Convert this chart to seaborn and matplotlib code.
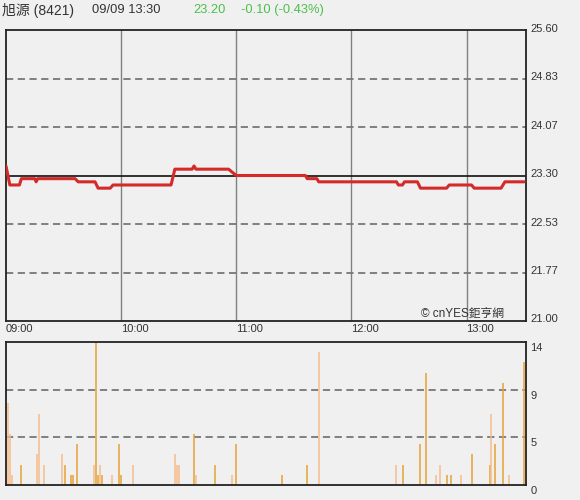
import matplotlib
matplotlib.use("Agg")
import matplotlib.pyplot as plt
import matplotlib.transforms as mtransforms
import seaborn as sns
import pandas as pd

# ---------------- data ----------------
stock_name = "旭源 (8421)"
stamp = "09/09 13:30"
last_price = "23.20"
change_text = "-0.10 (-0.43%)"
prev_close = 23.30

# minutes after 09:00 where the price sits / changes
price_minutes = [0, 1, 2, 7, 8, 15, 15.7, 16.5, 36, 37.6, 46.4, 48, 54.3, 55.8,
                 86, 88, 97, 98, 99, 116, 120, 156, 157, 162, 163, 203.5, 204.5,
                 206.6, 207.7, 214.4, 216, 229.6, 231, 242.6, 244, 258, 260, 270]
prices = [23.45, 23.30, 23.15, 23.15, 23.25, 23.25, 23.20, 23.25, 23.25, 23.20,
          23.20, 23.10, 23.10, 23.15, 23.15, 23.40, 23.40, 23.45, 23.40, 23.40,
          23.30, 23.30, 23.25, 23.25, 23.20, 23.20, 23.15, 23.15, 23.20, 23.20,
          23.10, 23.10, 23.15, 23.15, 23.10, 23.10, 23.20, 23.20]

vol_minutes = [0, 1, 2, 3, 8, 16, 17.4, 20, 29, 31, 34, 35, 37, 46, 47, 48, 49, 50,
               55, 59, 60, 66, 88, 89, 90, 98, 99, 109, 118, 120, 144, 157, 163,
               203, 207, 216, 219, 224, 226, 230, 232, 237, 243, 252, 253, 255,
               259, 262, 270]
volumes = [5, 8, 5, 1, 2, 3, 7, 2, 3, 2, 1, 1, 4, 2, 14, 1, 2, 1,
           1, 4, 1, 2, 3, 2, 2, 5, 1, 2, 1, 4, 1, 2, 13,
           2, 2, 4, 11, 1, 2, 1, 1, 1, 3, 2, 7, 4,
           10, 1, 12]
vol_side = ["l", "l", "l", "l", "d", "l", "l", "l", "l", "d", "d", "d", "d", "l", "d", "d", "l", "d",
            "l", "d", "d", "l", "l", "l", "l", "d", "l", "d", "l", "d", "d", "d", "l",
            "l", "d", "d", "d", "l", "l", "d", "d", "l", "d", "d", "l", "d",
            "d", "l", "d"]

time_ticks = [0, 60, 120, 180, 240]
time_labels = ["09:00", "10:00", "11:00", "12:00", "13:00"]
price_lo, price_hi = 21.00, 25.60
vol_max = 14
vol_tick_labels = ["0", "5", "9", "14"]

# ---------------- style ----------------
sns.set_theme(style="white")
plt.rcParams["font.family"] = ["Liberation Sans", "Noto Sans CJK TC", "DejaVu Sans"]
bg = "#f0f0f0"
grid_grey = "#808080"

fig = plt.figure(figsize=(5.8, 5.0), dpi=100, facecolor=bg)
ax = fig.add_axes([6 / 580, 1 - 321 / 500, 520 / 580, 291 / 500])
axv = fig.add_axes([6 / 580, 1 - 485 / 500, 520 / 580, 143 / 500])

xmax = 271

# ---------------- price panel ----------------
ax.set_facecolor(bg)
df = pd.DataFrame({"minute": price_minutes, "price": prices})
for t in time_ticks[1:]:
    ax.axvline(t, color=grid_grey, lw=1.0, zorder=1)
step = (price_hi - price_lo) / 6
yticks = [price_lo + i * step for i in range(7)]
for i, yv in enumerate(yticks):
    if i in (1, 2, 4, 5):
        ax.axhline(yv, color="#777777", lw=1.3, ls=(0, (4, 2.5)), zorder=1)
ax.axhline(prev_close, color="#111111", lw=1.2, zorder=2)
sns.lineplot(data=df, x="minute", y="price", ax=ax, color="#d42a2a", lw=2.2,
             zorder=3, estimator=None, sort=False)
ax.set_xlim(0, xmax)
ax.set_ylim(price_lo, price_hi)
ax.set_yticks(yticks)
ax.set_yticklabels([f"{v:.2f}" for v in yticks])
ax.yaxis.tick_right()
ax.tick_params(axis="y", length=0, pad=3, labelsize=8, colors="#333333")
up_shift = mtransforms.ScaledTranslation(0, 2.5 / 100, fig.dpi_scale_trans)
for lbl in ax.get_yticklabels():
    lbl.set_transform(lbl.get_transform() + up_shift)
ax.set_xticks(time_ticks)
ax.set_xticklabels(time_labels)
ax.tick_params(axis="x", length=0, pad=2, labelsize=8, colors="#333333")
for lbl in ax.get_xticklabels():
    lbl.set_horizontalalignment("left")
ax.set_xlabel("")
ax.set_ylabel("")
for s in ax.spines.values():
    s.set_visible(True)
    s.set_color("#222222")
    s.set_linewidth(1.3)
ax.text(0.957, 0.005, "© cnYES鉅亨網", transform=ax.transAxes, ha="right", va="bottom",
        fontsize=8.5, color="#333333",
        family=["Liberation Sans", "Noto Sans CJK TC"])

# ---------------- volume panel ----------------
axv.set_facecolor(bg)
for frac in (1 / 3, 2 / 3):
    axv.axhline(vol_max * frac, color="#777777", lw=1.3, ls=(0, (4, 2.5)), zorder=1)
col_map = {"l": "#f6bd8c", "d": "#e8a336"}
vcolors = [col_map[s] for s in vol_side]
axv.vlines(vol_minutes, 0, volumes, colors=vcolors, lw=1.1, zorder=2)
axv.set_xlim(0, xmax)
axv.set_ylim(0, vol_max)
axv.set_xticks([])
axv.set_yticks([0, vol_max / 3, 2 * vol_max / 3, vol_max])
axv.set_yticklabels(vol_tick_labels)
axv.yaxis.tick_right()
axv.tick_params(axis="y", length=0, pad=3, labelsize=8, colors="#333333")
down_shift = mtransforms.ScaledTranslation(0, -1 / 100, fig.dpi_scale_trans)
for lbl in axv.get_yticklabels():
    lbl.set_verticalalignment("top")
    lbl.set_transform(lbl.get_transform() + down_shift)
for s in axv.spines.values():
    s.set_visible(True)
    s.set_color("#222222")
    s.set_linewidth(1.3)

# ---------------- header ----------------
hy = 1 - 10 / 500
fig.text(2 / 580, hy, stock_name, ha="left", va="center", fontsize=10, color="#333333")
fig.text(92 / 580, hy, stamp, ha="left", va="center", fontsize=9.3, color="#333333")
fig.text(193 / 580, hy, last_price, ha="left", va="center", fontsize=9.3, color="#4cc04c")
fig.text(241 / 580, hy, change_text, ha="left", va="center", fontsize=9.3, color="#4cc04c")

fig.savefig("out.png", dpi=100, facecolor=bg)
